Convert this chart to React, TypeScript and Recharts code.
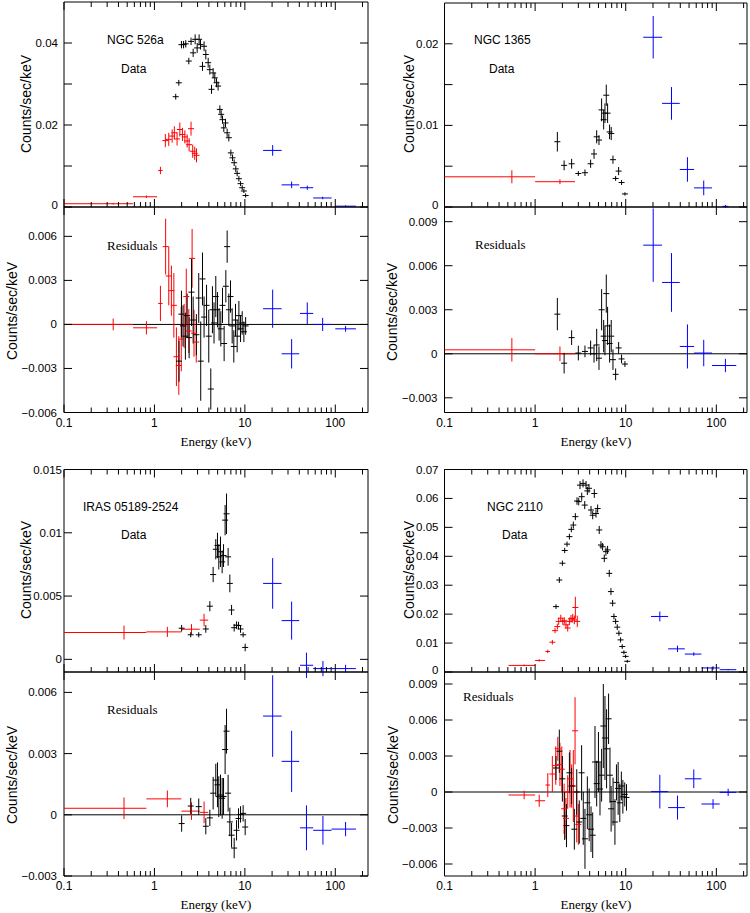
import React from 'react';
import { ScatterChart, Scatter, XAxis, YAxis, ErrorBar, ReferenceLine, ReferenceArea } from 'recharts';

// point = [E, y, dy] (narrow bin) or [E, y, dy, Elo, Ehi] (wide bin)
type Pt = number[];

const X_TICKS = [0.1, 0.2, 0.3, 0.4, 0.5, 0.6, 0.7, 0.8, 0.9, 1, 2, 3, 4, 5, 6, 7, 8, 9, 10, 20, 30, 40, 50, 60, 70, 80, 90, 100, 200];
const X_LABELS = [0.1, 1, 10, 100];

// ---------- NGC 526a ----------
const n526Red: Pt[] = [
  [0.35, 0.0008, 0.0002, 0.1, 0.58], [0.815, 0.0025, 0.0003, 0.58, 1.07], [1.165, 0.0089, 0.0009, 1.1, 1.23],
  [1.32, 0.0162, 0.0016], [1.44, 0.0165, 0.0016], [1.57, 0.0173, 0.0016], [1.66, 0.0181, 0.0016],
  [1.78, 0.0166, 0.0016], [1.91, 0.0189, 0.0017], [2.04, 0.0177, 0.0016], [2.17, 0.0171, 0.0016],
  [2.3, 0.0161, 0.0016], [2.42, 0.0152, 0.0016], [2.54, 0.0191, 0.0017], [2.65, 0.0136, 0.0016],
  [2.79, 0.0131, 0.0016], [2.92, 0.0126, 0.0017],
];
const n526Black: Pt[] = [
  [1.72, 0.0269, 0.0007], [1.86, 0.0303, 0.0007], [1.99, 0.0396, 0.0009], [2.1, 0.0396, 0.0009], [2.22, 0.0398, 0.0009],
  [2.4, 0.0356, 0.0008], [2.54, 0.0404, 0.0009], [2.68, 0.0376, 0.001], [2.82, 0.0409, 0.0012], [2.97, 0.0388, 0.0012],
  [3.12, 0.0409, 0.0012], [3.23, 0.0396, 0.0012], [3.4, 0.0343, 0.0011], [3.54, 0.0392, 0.0012], [3.7, 0.0372, 0.0012],
  [3.93, 0.0352, 0.0012], [4.1, 0.0335, 0.0012], [4.28, 0.0287, 0.0011], [4.46, 0.0327, 0.0012], [4.65, 0.0315, 0.0012],
  [4.86, 0.0303, 0.0011], [5.06, 0.0295, 0.0011], [5.29, 0.0238, 0.001], [5.47, 0.0226, 0.001], [5.66, 0.0213, 0.001],
  [5.85, 0.0193, 0.001], [6.11, 0.0205, 0.001], [6.37, 0.0181, 0.001], [6.65, 0.0169, 0.0009], [7.0, 0.0132, 0.0008],
  [7.31, 0.012, 0.0008], [7.62, 0.0108, 0.0008], [7.94, 0.0093, 0.0008], [8.22, 0.0082, 0.0007], [8.59, 0.0069, 0.0007],
  [8.96, 0.0057, 0.0006], [9.34, 0.0047, 0.0006], [9.75, 0.0039, 0.0005], [10.2, 0.0028, 0.0005],
];
const n526Blue: Pt[] = [
  [20.3, 0.0138, 0.0013, 15.9, 25.5], [32.9, 0.0054, 0.0008, 25.5, 39.9], [49, 0.0047, 0.0005, 40.7, 57],
  [72.5, 0.0022, 0.0003, 57, 91], [130, 0.0002, 0.0002, 100, 169],
];
const n526ResRed: Pt[] = [
  [0.35, 0, 0.0004, 0.1, 0.58], [0.815, -0.00023, 0.00045, 0.58, 1.07], [1.165, 0.00143, 0.0012, 1.1, 1.23],
  [1.33, 0.0053, 0.0019], [1.44, 0.0033, 0.002], [1.54, 0.0023, 0.0017], [1.64, 0.0013, 0.0022], [1.75, -0.0022, 0.002],
  [1.86, -0.0028, 0.002], [1.98, -0.001, 0.0022], [2.13, -0.0001, 0.0015], [2.25, 0.0019, 0.0019], [2.4, -0.00045, 0.0015],
  [2.61, 0.0045, 0.002], [2.74, -0.0006, 0.0016], [2.9, -0.0012, 0.0014],
];
const n526ResBlack: Pt[] = [
  [1.87, -0.0025, 0.0014], [1.99, 0.0007, 0.0016], [2.07, -0.0001, 0.0014], [2.2, -0.0008, 0.0016], [2.3, 0.0006, 0.0015],
  [2.42, -0.0009, 0.0014], [2.57, 0.0022, 0.0023], [2.68, 0.0003, 0.0016], [2.91, -0.0007, 0.0014], [3.09, 0.0018, 0.0017],
  [3.25, -0.0025, 0.0027], [3.4, 0.0031, 0.0018], [3.54, 0.0005, 0.0014], [3.77, 0.0013, 0.0014], [3.99, -0.0008, 0.0018],
  [4.2, -0.0044, 0.0014], [4.38, 0.001, 0.0016], [4.56, 0.0001, 0.0014], [4.77, 0.0019, 0.0014], [4.98, 0.001, 0.0012],
  [5.19, 0, 0.0011], [5.42, -0.0003, 0.0012], [5.66, 0.0013, 0.0012], [5.9, -0.0013, 0.0012], [6.16, 0.0026, 0.0011],
  [6.37, 0.0053, 0.0011], [6.65, 0.001, 0.0011], [6.94, 0.0019, 0.0011], [7.24, -0.0001, 0.0012], [7.55, -0.0015, 0.0011],
  [7.88, 0.0003, 0.0011], [8.22, -0.0008, 0.0011], [8.59, 0.0006, 0.001], [8.96, -0.0003, 0.0009], [9.34, 0.0001, 0.0008],
  [9.75, -0.0005, 0.0007], [10.2, -0.0001, 0.0006],
];
const n526ResBlue: Pt[] = [
  [20.3, 0.00107, 0.0013, 15.9, 25.5], [32.9, -0.002, 0.001, 25.5, 39.9], [49, 0.00075, 0.00075, 40.7, 57],
  [72.5, 0, 0.00045, 57, 91], [130, -0.0003, 0.0002, 100, 169],
];

// ---------- NGC 1365 ----------
const n1365Red: Pt[] = [[0.554, 0.0037, 0.0008, 0.1, 1.0], [1.88, 0.0031, 0.0003, 1.0, 2.76]];
const n1365Black: Pt[] = [
  [1.76, 0.008, 0.0012], [2.09, 0.0051, 0.0006], [2.53, 0.0053, 0.0006], [3.0, 0.0041, 0.0003], [3.55, 0.0042, 0.0004],
  [4.1, 0.0053, 0.0005], [4.47, 0.0065, 0.0006], [4.78, 0.0086, 0.0008], [5.07, 0.0082, 0.0006], [5.42, 0.0119, 0.0014],
  [5.71, 0.0107, 0.0012], [5.9, 0.0115, 0.0012], [6.1, 0.0137, 0.0013], [6.31, 0.0115, 0.0012], [6.64, 0.0092, 0.0009],
  [6.92, 0.009, 0.0008], [7.23, 0.0058, 0.0005], [7.74, 0.0035, 0.0003], [8.35, 0.0044, 0.0005], [9.0, 0.003, 0.0003],
  [9.8, 0.0016, 0.0002],
];
const n1365Blue: Pt[] = [
  [20.1, 0.0208, 0.0026, 15.6, 25.2], [32, 0.0127, 0.002, 25.2, 39.5], [48, 0.0046, 0.0015, 39.5, 56.8],
  [72.6, 0.00234, 0.0009, 56.8, 89.7], [126, 0.00008, 0.00018],
];
const n1365ResRed: Pt[] = [[0.554, 0.00027, 0.0008, 0.1, 1.0], [1.88, 0, 0.0005, 1.0, 2.76]];
const n1365ResBlack: Pt[] = [
  [1.76, 0.0027, 0.0011], [2.09, -0.00064, 0.0007], [2.53, 0.0011, 0.0005], [3.0, 0.00005, 0.0005], [3.55, 0.00016, 0.0004],
  [4.1, 0.0004, 0.0005], [4.47, 0, 0.0006], [4.78, 0.0006, 0.0011], [5.07, -0.0003, 0.0008], [5.42, 0.003, 0.0014],
  [5.71, 0.0012, 0.0011], [5.9, 0.0009, 0.001], [6.1, 0.0041, 0.0013], [6.31, 0.0019, 0.0013], [6.64, 0.0007, 0.0013],
  [6.92, 0.0012, 0.0011], [7.23, -0.0004, 0.0007], [7.74, -0.0014, 0.0004], [8.35, 0.0004, 0.0004], [9.0, -0.00035, 0.0003],
  [9.8, -0.0007, 0.0002],
];
const n1365ResBlue: Pt[] = [
  [20.1, 0.0074, 0.0025, 15.6, 25.2], [32, 0.00486, 0.002, 25.2, 39.5], [48, 0.0005, 0.0015, 39.5, 56.8],
  [72.6, 0.00005, 0.0009, 56.8, 89.7], [126, -0.0008, 0.00045, 89.7, 166],
];

// ---------- IRAS 05189-2524 ----------
const irasRed: Pt[] = [
  [0.461, 0.00212, 0.00055, 0.1, 0.815], [1.39, 0.00217, 0.0004, 0.815, 1.99],
  [2.57, 0.00238, 0.0004, 1.99, 3.17], [3.54, 0.0031, 0.0005, 3.17, 3.93],
];
const irasBlack: Pt[] = [
  [2.0, 0.00246, 0.00026], [2.52, 0.00194, 0.0002], [3.09, 0.00194, 0.0002], [3.7, 0.0024, 0.0003], [4.1, 0.0042, 0.0004],
  [4.46, 0.0067, 0.0006], [4.77, 0.0087, 0.0008], [4.98, 0.009, 0.001], [5.15, 0.0081, 0.001], [5.38, 0.0085, 0.0012],
  [5.61, 0.0077, 0.0009], [5.81, 0.0082, 0.0009], [6.05, 0.011, 0.0012], [6.27, 0.0115, 0.0016], [6.53, 0.0081, 0.0007],
  [6.82, 0.006, 0.0007], [7.13, 0.0039, 0.0004], [7.62, 0.0025, 0.0003], [8.09, 0.0027, 0.0003], [8.51, 0.00267, 0.0003],
  [8.96, 0.0024, 0.0003], [9.57, 0.00194, 0.0002], [10.08, 0.00094, 0.0003],
];
const irasBlue: Pt[] = [
  [20.3, 0.006, 0.002, 15.9, 25.5], [32.9, 0.00306, 0.0015, 25.5, 39.9], [48, -0.00047, 0.001, 40.7, 57],
  [73, -0.00073, 0.0006, 57, 91], [130, -0.00073, 0.0003, 91, 169],
];
const irasResRed: Pt[] = [
  [0.461, 0.00032, 0.00053, 0.1, 0.815], [1.39, 0.00078, 0.00041, 0.815, 1.99],
  [2.57, 0.00018, 0.00043, 1.99, 3.17], [3.54, 0.00012, 0.00053, 3.17, 3.93],
];
const irasResBlack: Pt[] = [
  [2.0, -0.00043, 0.0004], [2.52, 0.00043, 0.0004], [3.09, 0.0004, 0.0004], [3.7, -0.00056, 0.0004], [4.1, -0.00015, 0.0004],
  [4.46, 0.00106, 0.0008], [4.77, 0.0017, 0.0008], [4.98, 0.00147, 0.0011], [5.15, 0.00089, 0.001], [5.38, 0.00097, 0.001],
  [5.61, 0.00081, 0.001], [5.81, 0.0009, 0.0009], [6.05, 0.0032, 0.0012], [6.27, 0.0041, 0.0011], [6.53, 0.00106, 0.0009],
  [6.82, -0.00035, 0.0007], [7.13, -0.001, 0.0006], [7.62, -0.00163, 0.0005], [8.09, -0.00076, 0.0005], [8.51, -0.00018, 0.0005],
  [8.96, 0.00002, 0.0004], [9.57, 0.00007, 0.0004], [10.08, -0.0006, 0.0004],
];
const irasResBlue: Pt[] = [
  [20.3, 0.00484, 0.002, 15.9, 25.5], [32.9, 0.00262, 0.0015, 25.5, 39.9], [48, -0.00064, 0.0011, 40.7, 57],
  [73, -0.00076, 0.0007, 57, 91], [130, -0.0007, 0.00035, 91, 169],
];

// ---------- NGC 2110 ----------
const n2110Red: Pt[] = [
  [0.757, 0.00228, 0.0003, 0.508, 1.0], [1.11, 0.004, 0.0004, 1.0, 1.29], [1.38, 0.0071, 0.0006, 1.3, 1.46],
  [1.55, 0.0103, 0.0008], [1.66, 0.0143, 0.0009], [1.76, 0.0157, 0.001], [1.82, 0.0175, 0.0012], [1.92, 0.0186, 0.0012],
  [2.02, 0.0175, 0.0012], [2.1, 0.0177, 0.0012], [2.19, 0.0163, 0.0012], [2.29, 0.0152, 0.0012], [2.39, 0.0175, 0.0013],
  [2.49, 0.0184, 0.0013], [2.6, 0.0186, 0.0015], [2.71, 0.018, 0.0015], [2.78, 0.0223, 0.0037], [2.92, 0.0175, 0.002],
];
const n2110Black: Pt[] = [
  [1.7, 0.0226, 0.0008], [1.85, 0.0318, 0.001], [2.0, 0.0376, 0.0009], [2.12, 0.042, 0.0009], [2.25, 0.0442, 0.0009],
  [2.39, 0.0468, 0.001], [2.51, 0.0493, 0.001], [2.64, 0.0508, 0.0012], [2.78, 0.0537, 0.0012], [2.9, 0.0591, 0.0013],
  [3.03, 0.0589, 0.0013], [3.13, 0.0646, 0.0014], [3.27, 0.0606, 0.0014], [3.38, 0.0652, 0.0014], [3.53, 0.0577, 0.0014],
  [3.65, 0.0646, 0.0014], [3.77, 0.0626, 0.0014], [3.93, 0.0635, 0.0015], [4.14, 0.056, 0.0014], [4.32, 0.0542, 0.0014],
  [4.5, 0.0617, 0.0015], [4.7, 0.0548, 0.0014], [4.9, 0.0565, 0.0014], [5.1, 0.0491, 0.0014], [5.33, 0.0439, 0.0013],
  [5.56, 0.0433, 0.0013], [5.8, 0.0393, 0.0013], [6.05, 0.0416, 0.0014], [6.31, 0.0422, 0.0014], [6.58, 0.0341, 0.0012],
  [6.87, 0.0278, 0.0012], [7.17, 0.0238, 0.0011], [7.41, 0.0192, 0.001], [7.74, 0.0175, 0.001], [8.06, 0.0155, 0.001],
  [8.41, 0.0134, 0.0009], [8.78, 0.0111, 0.0009], [9.15, 0.0088, 0.0008], [9.55, 0.0068, 0.0007], [9.97, 0.0054, 0.0006],
  [10.4, 0.0037, 0.0005],
];
const n2110Blue: Pt[] = [
  [23.8, 0.0192, 0.0017, 19, 29.4], [37.3, 0.008, 0.0011, 29.4, 44.9], [56.4, 0.0062, 0.0006, 44.9, 68.5],
  [92, 0.0014, 0.0006, 68.5, 109], [135, 0.0008, 0.0002, 109, 166],
];
const n2110ResRed: Pt[] = [
  [0.757, -0.00025, 0.00035, 0.508, 1.0], [1.11, -0.00073, 0.0005, 1.0, 1.29], [1.38, 0.00058, 0.001, 1.3, 1.46],
  [1.55, 0.0015, 0.0015], [1.69, 0.0022, 0.0016], [1.78, 0.0036, 0.001], [1.88, 0.0023, 0.0018], [1.97, 0.0019, 0.0019],
  [2.09, -0.0014, 0.0021], [2.19, -0.0022, 0.0017], [2.29, 0, 0.0014], [2.43, 0.0011, 0.0024], [2.53, 0.0005, 0.0018],
  [2.64, 0.0005, 0.003], [2.76, 0.0051, 0.0028], [2.88, -0.002, 0.0022], [3.0, -0.0027, 0.0017],
];
const n2110ResBlack: Pt[] = [
  [1.7, 0.002, 0.001], [1.85, 0.0034, 0.0018], [2.0, 0.0011, 0.0019], [2.12, -0.002, 0.002], [2.22, -0.0028, 0.0018],
  [2.39, 0.0016, 0.0017], [2.53, 0.0005, 0.0015], [2.71, -0.0031, 0.0017], [2.88, 0, 0.0019], [3.07, -0.0025, 0.0018],
  [3.26, 0.0016, 0.0023], [3.4, -0.0022, 0.0022], [3.55, -0.0039, 0.0025], [3.77, -0.0009, 0.0022], [3.95, -0.0019, 0.0022],
  [4.14, -0.0031, 0.0019], [4.32, -0.0036, 0.0019], [4.58, 0.0025, 0.003], [4.78, 0.0007, 0.0019], [5.0, 0.0025, 0.0025],
  [5.2, 0.00025, 0.0022], [5.42, 0.0014, 0.0022], [5.66, 0.0055, 0.0035], [5.9, 0.0045, 0.0035], [6.15, 0.0036, 0.0033],
  [6.47, 0.0061, 0.0021], [6.7, 0.0014, 0.0023], [6.9, -0.0014, 0.0019], [7.25, -0.0008, 0.002], [7.6, -0.0025, 0.0019],
  [7.9, 0.0008, 0.0015], [8.25, 0.0003, 0.0022], [8.6, -0.0009, 0.0016], [8.95, 0.0005, 0.0012], [9.3, -0.0004, 0.0014],
  [9.75, -0.0002, 0.001], [10.2, -0.00045, 0.0011],
];
const n2110ResBlue: Pt[] = [
  [23.8, 0.00003, 0.0014, 19, 29.4], [37.3, -0.0013, 0.001, 29.4, 44.9], [56.4, 0.0011, 0.00078, 44.9, 68.5],
  [92, -0.001, 0.0004, 68.5, 109], [135, -0.00003, 0.0003, 109, 166],
];

// y ticks / labelled ticks
const n526Ticks = [0, 0.01, 0.02, 0.03, 0.04];
const n526Labels = [0, 0.02, 0.04];
const n526ResTicks = [-0.006, -0.003, 0, 0.003, 0.006];
const n1365Ticks = [0, 0.005, 0.01, 0.015, 0.02];
const n1365Labels = [0, 0.01, 0.02];
const n1365ResTicks = [-0.003, 0, 0.003, 0.006, 0.009];
const irasTicks = [0, 0.005, 0.01, 0.015];
const irasResTicks = [-0.003, 0, 0.003, 0.006];
const n2110Ticks = [0, 0.01, 0.02, 0.03, 0.04, 0.05, 0.06, 0.07];
const n2110ResTicks = [-0.006, -0.003, 0, 0.003, 0.006, 0.009];

const RED = '#ff0000';
const BLUE = '#0000ff';
const BLACK = '#000000';
const SANS = '"Liberation Sans", Arial, sans-serif';
const SERIF = '"Liberation Serif", "Times New Roman", serif';

const near = (list: number[], v: number) => list.some((m) => Math.abs(m - v) < 1e-9);
const fmtY = (v: number) => (Math.abs(v) < 1e-12 ? '0' : (v < 0 ? '\u2212' : '') + String(+Math.abs(v).toFixed(4)));

const seriesEls = (pts: Pt[], color: string, key: string) => {
  const wide = pts.filter((p) => p.length > 3).map((p) => ({ x: p[0], y: p[1], ey: p[2], ex: [p[0] - p[3], p[4] - p[0]] }));
  const narrow = pts.filter((p) => p.length <= 3).map((p) => ({ x: p[0], y: p[1], ey: p[2] }));
  const out: any[] = [];
  if (narrow.length)
    out.push(
      <Scatter key={key + 'n'} data={narrow} isAnimationActive={false}
        shape={(p: any) => <line x1={p.cx - 3} x2={p.cx + 3} y1={p.cy} y2={p.cy} stroke={color} strokeWidth={1} />}>
        <ErrorBar dataKey="ey" direction="y" width={0} stroke={color} strokeWidth={1} isAnimationActive={false} />
      </Scatter>
    );
  if (wide.length)
    out.push(
      <Scatter key={key + 'w'} data={wide} isAnimationActive={false} shape={() => <g />}>
        <ErrorBar dataKey="ex" direction="x" width={0} stroke={color} strokeWidth={1} isAnimationActive={false} />
        <ErrorBar dataKey="ey" direction="y" width={0} stroke={color} strokeWidth={1} isAnimationActive={false} />
      </Scatter>
    );
  return out;
};

type PlotProps = {
  box: [number, number, number, number]; // x, y, w, h of the chart on the page
  plot: [number, number, number, number]; // left, top, right, bottom of the plot area
  xMax: number;
  yDomain: [number, number];
  yTicks: number[];
  yLabels: number[];
  gap?: number;
  showX?: boolean;
  residual?: boolean;
  red: Pt[];
  black: Pt[];
  blue: Pt[];
};

function Plot({ box, plot, xMax, yDomain, yTicks, yLabels, gap = 6, showX, residual, red, black, blue }: PlotProps) {
  const [bx, by, bw, bh] = box;
  const [l, t, r, b] = plot;
  const pw = r - l;
  const ph = b - t;
  const xTick = (p: any) => {
    const major = near(X_LABELS, p.payload.value);
    const len = major ? 8 : 5;
    const topLen = residual && !major ? 0 : len;
    return (
      <g>
        <line x1={p.x} x2={p.x} y1={p.y} y2={p.y - len} stroke={BLACK} />
        {topLen > 0 && <line x1={p.x} x2={p.x} y1={p.y - ph} y2={p.y - ph + topLen} stroke={BLACK} />}
        {showX && major && (
          <text x={p.x} y={p.y + 10} dy="0.35em" textAnchor="middle" fontFamily={SANS} fontSize={12} fill={BLACK}>
            {String(p.payload.value)}
          </text>
        )}
      </g>
    );
  };
  const yTick = (p: any) => {
    // the label sitting on the lower edge of a data panel is lifted a little, as in the original
    const lift = !residual && Math.abs(p.payload.value - yDomain[0]) < 1e-9 ? -2 : 0;
    return (
      <g>
        <line x1={p.x} x2={p.x + 8} y1={p.y} y2={p.y} stroke={BLACK} />
        <line x1={p.x + pw} x2={p.x + pw - 8} y1={p.y} y2={p.y} stroke={BLACK} />
        {near(yLabels, p.payload.value) && (
          <text x={p.x - gap} y={p.y + lift} dy="0.35em" textAnchor="end" fontFamily={SANS} fontSize={11.5} fill={BLACK}>
            {fmtY(p.payload.value)}
          </text>
        )}
      </g>
    );
  };
  return (
    <div style={{ position: 'absolute', left: bx, top: by }}>
      <ScatterChart width={bw} height={bh} margin={{ top: t - by, right: bx + bw - r, bottom: 0, left: 0 }}>
        <XAxis dataKey="x" type="number" scale="log" domain={[0.1, xMax]} ticks={X_TICKS} interval={0}
          allowDataOverflow height={by + bh - b} tickSize={0} tickMargin={0} axisLine={false} tickLine={false} tick={xTick} />
        <YAxis dataKey="y" type="number" domain={yDomain} ticks={yTicks} interval={0} allowDataOverflow
          width={l - bx} tickSize={0} tickMargin={0} axisLine={false} tickLine={false} tick={yTick} />
        {residual && <ReferenceLine y={0} stroke={BLACK} strokeWidth={1} />}
        {seriesEls(red, RED, 'r')}
        {seriesEls(black, BLACK, 'k')}
        {seriesEls(blue, BLUE, 'b')}
        <ReferenceArea x1={0.1} x2={xMax} y1={yDomain[0]} y2={yDomain[1]} fill="none" fillOpacity={0}
          stroke={BLACK} strokeWidth={1} strokeOpacity={1} ifOverflow="visible" />
      </ScatterChart>
    </div>
  );
}

const Label = ({ x, y, children, serif, size = 12 }: any) => (
  <text x={x} y={y} dy="0.35em" fontFamily={serif ? SERIF : SANS} fontSize={size} fill={BLACK}>{children}</text>
);
const YTitle = ({ x, y }: any) => (
  <text x={x} y={y} dy="0.35em" textAnchor="middle" transform={`rotate(-90 ${x} ${y})`}
    fontFamily={SANS} fontSize={14} fill={BLACK}>Counts/sec/keV</text>
);
const XTitle = ({ x, y }: any) => (
  <text x={x} y={y} dy="0.35em" textAnchor="middle" fontFamily={SERIF} fontSize={13} fill={BLACK}>Energy (keV)</text>
);

export default function App() {
  const LX = 230;
  const RX = 218;
  return (
    <div style={{ position: 'absolute', left: 0, top: 0, width: 750, height: 913, background: '#fff', overflow: 'hidden' }}>
      {/* NGC 526a */}
      <Plot box={[0, 0, 375, 217]} plot={[64, 2, 368, 207]} xMax={LX} yDomain={[0, 0.05]} yTicks={n526Ticks}
        yLabels={n526Labels} red={n526Red} black={n526Black} blue={n526Blue} />
      <Plot box={[0, 197, 375, 259]} plot={[64, 207, 368, 412.5]} xMax={LX} yDomain={[-0.006, 0.008]} yTicks={n526ResTicks}
        yLabels={n526ResTicks} gap={7} showX residual red={n526ResRed} black={n526ResBlack} blue={n526ResBlue} />
      {/* NGC 1365 */}
      <Plot box={[375, 0, 375, 217]} plot={[444.5, 3, 747, 207]} xMax={RX} yDomain={[0, 0.025]} yTicks={n1365Ticks}
        yLabels={n1365Labels} red={n1365Red} black={n1365Black} blue={n1365Blue} />
      <Plot box={[375, 197, 375, 259]} plot={[444.5, 207, 747, 412.5]} xMax={RX} yDomain={[-0.004, 0.01]} yTicks={n1365ResTicks}
        yLabels={n1365ResTicks} gap={7} showX residual red={n1365ResRed} black={n1365ResBlack} blue={n1365ResBlue} />
      {/* IRAS 05189-2524 */}
      <Plot box={[0, 456, 375, 226]} plot={[64, 469.5, 368, 672]} xMax={LX} yDomain={[-0.001, 0.015]} yTicks={irasTicks}
        yLabels={irasTicks} gap={2} red={irasRed} black={irasBlack} blue={irasBlue} />
      <Plot box={[0, 662, 375, 251]} plot={[64, 672, 368, 876]} xMax={LX} yDomain={[-0.003, 0.007]} yTicks={irasResTicks}
        yLabels={irasResTicks} gap={7} showX residual red={irasResRed} black={irasResBlack} blue={irasResBlue} />
      {/* NGC 2110 */}
      <Plot box={[375, 456, 375, 226]} plot={[444.5, 469.5, 747, 672]} xMax={RX} yDomain={[0, 0.07]} yTicks={n2110Ticks}
        yLabels={n2110Ticks} red={n2110Red} black={n2110Black} blue={n2110Blue} />
      <Plot box={[375, 662, 375, 251]} plot={[444.5, 672, 747, 876]} xMax={RX} yDomain={[-0.007, 0.01]} yTicks={n2110ResTicks}
        yLabels={n2110ResTicks} gap={7} showX residual red={n2110ResRed} black={n2110ResBlack} blue={n2110ResBlue} />

      <svg width={750} height={913} style={{ position: 'absolute', left: 0, top: 0, pointerEvents: 'none' }}>
        <Label x={107} y={40}>NGC 526a</Label>
        <Label x={121} y={69}>Data</Label>
        <Label x={107} y={245} serif size={13}>Residuals</Label>
        <YTitle x={26} y={104} />
        <YTitle x={12} y={311} />
        <XTitle x={216} y={441} />

        <Label x={474} y={40}>NGC 1365</Label>
        <Label x={489} y={69}>Data</Label>
        <Label x={475} y={244} serif size={13}>Residuals</Label>
        <YTitle x={409} y={104} />
        <YTitle x={392} y={312} />
        <XTitle x={596} y={441} />

        <Label x={83} y={507}>IRAS 05189-2524</Label>
        <Label x={121} y={535}>Data</Label>
        <Label x={107} y={709} serif size={13}>Residuals</Label>
        <YTitle x={26} y={570} />
        <YTitle x={12} y={775} />
        <XTitle x={216} y={904} />

        <Label x={487} y={507}>NGC 2110</Label>
        <Label x={502} y={535}>Data</Label>
        <Label x={463} y={696} serif size={13}>Residuals</Label>
        <YTitle x={409} y={570} />
        <YTitle x={393} y={775} />
        <XTitle x={596} y={904} />
      </svg>
    </div>
  );
}
